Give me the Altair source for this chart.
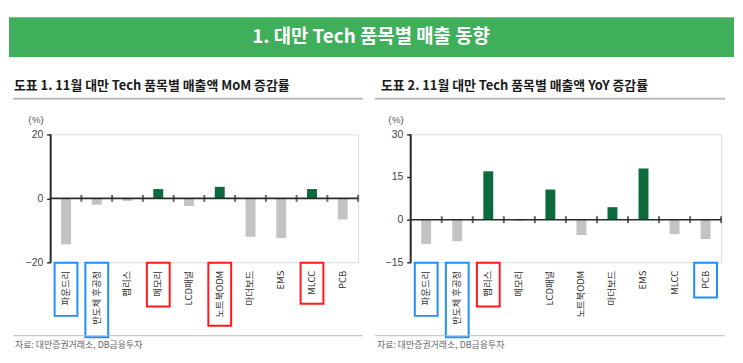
import altair as alt
import pandas as pd

categories = ["파운드리", "반도체 후공정", "팹리스", "메모리", "LCD패널", "노트북ODM", "마더보드", "EMS", "MLCC", "PCB"]
mom_values = [-14.4, -2.0, -0.8, 2.9, -2.4, 3.6, -12.0, -12.4, 2.9, -6.6]
yoy_values = [-8.6, -7.6, 17.0, -0.5, 10.6, -5.4, 4.4, 18.0, -5.1, -6.8]
mom_ticks = [-20, 0, 20]
yoy_ticks = [-15, 0, 15, 30]
mom_highlight = {"파운드리": "blue", "반도체 후공정": "blue", "메모리": "red", "노트북ODM": "red", "MLCC": "red"}
yoy_highlight = {"파운드리": "blue", "반도체 후공정": "blue", "팹리스": "red", "PCB": "blue"}

banner_text = "1. 대만 Tech 품목별 매출 동향"
title_mom = "도표 1. 11월 대만 Tech 품목별 매출액 MoM 증감률"
title_yoy = "도표 2. 11월 대만 Tech 품목별 매출액 YoY 증감률"
source_text = "자료:  대만증권거래소, DB금융투자"

FONT = "Noto Sans CJK KR"
GREEN = "#0B6B3C"
GRAY = "#C3C3C3"
AXIS = "#2b2b2b"
BOX = {"blue": "#1E8FFF", "red": "#FF1A1A"}
H = 129
LABEL_SIZE = 9.5
LABEL_PAD = 8


def text_px(s, size):
    w = 0.0
    for ch in s:
        if "\uac00" <= ch <= "\ud7a3":
            w += 1.0
        elif ch == " ":
            w += 0.28
        elif ch.isupper():
            w += 0.68
        else:
            w += 0.56
    return w * size


def one():
    return pd.DataFrame({"k": [0]})


def panel(values, ticks, highlight, title, width, deco, banner=False):
    df = pd.DataFrame({"cat": categories, "value": values})
    xaxis = alt.Axis(labelAngle=270, labelAlign="right", labelBaseline="middle", domain=False,
                     ticks=False, tickSize=0, labelPadding=LABEL_PAD, labelFontSize=LABEL_SIZE,
                     labelColor="#333333", labelFont=FONT, title=None)
    xscale = alt.Scale(type="band", paddingInner=0, paddingOuter=0)

    def X(**kw):
        return alt.X("cat:N", sort=categories, scale=xscale, axis=xaxis, **kw)

    yscale = alt.Scale(domain=[ticks[0], ticks[-1]], nice=False, zero=False)
    yaxis = alt.Axis(values=ticks, domain=False,
                     ticks=True, tickSize=4, labelPadding=4,
                     tickColor=AXIS, tickWidth=1.5,
                     labelColor="#444444", labelFontSize=10.5, labelFont="Liberation Sans",
                     grid=False, title="(%)", titleAngle=0, titleX=-23, titleY=-15,
                     titleAlign="left", titleBaseline="middle", titleFontWeight="normal",
                     titleFontSize=10, titleColor="#555555", titleFont="Liberation Sans")

    def Yd(v):
        return alt.Y(datum=v, scale=yscale, axis=yaxis, title="(%)")

    bars = alt.Chart(df).mark_bar(size=10).encode(
        x=X(),
        y=alt.Y("value:Q", scale=yscale, axis=yaxis, title="(%)"),
        color=alt.condition("datum.value > 0", alt.value(GREEN), alt.value(GRAY)),
    )
    zero = alt.Chart(one()).mark_rule(color=AXIS, strokeWidth=1.6).encode(y=Yd(0))
    yline = alt.Chart(one()).mark_rect(color=AXIS).encode(
        x=alt.value(-1), x2=alt.value(1), y=Yd(ticks[-1]), y2=alt.Y2(datum=ticks[0]))
    tks = alt.Chart(df).mark_tick(color=AXIS, orient="vertical", thickness=2, size=7).encode(
        x=X(bandPosition=1), y=Yd(0),
    )

    layers = []
    for cat, col in highlight.items():
        bottom = H + LABEL_PAD + text_px(cat, LABEL_SIZE) + 8
        box = alt.Chart(pd.DataFrame({"cat": [cat]})).mark_bar(
            size=23, fillOpacity=0, stroke=BOX[col], strokeWidth=2
        ).encode(x=X(), y=alt.value(H + 0.5), y2=alt.value(bottom))
        layers.append(box)

    if banner:
        layers.append(alt.Chart(one()).mark_rect(color="#40AF5C").encode(
            x=alt.value(-42), x2=alt.value(689), y=alt.value(-118), y2=alt.value(-78)))
        layers.append(alt.Chart(one()).mark_text(
            align="center", baseline="middle", font=FONT, fontSize=19, fontWeight="bold", color="white"
        ).encode(x=alt.value(323), y=alt.value(-98), text=alt.value(banner_text)))

    layers.append(alt.Chart(one()).mark_text(
        align="left", baseline="middle", font=FONT, fontSize=13, fontWeight="bold", color="#1a1a1a"
    ).encode(x=alt.value(deco["title_x"]), y=alt.value(-49), text=alt.value(title)))
    layers.append(alt.Chart(one()).mark_rule(color="#BDBDBD", strokeWidth=2).encode(
        x=alt.value(deco["line_x0"]), x2=alt.value(deco["line_x1"]), y=alt.value(-36)))
    layers.append(alt.Chart(one()).mark_rule(color="#BDBDBD", strokeWidth=1).encode(
        x=alt.value(deco["line_x0"]), x2=alt.value(deco["line_x1"]), y=alt.value(203)))
    layers.append(alt.Chart(one()).mark_text(
        align="left", baseline="middle", font=FONT, fontSize=9, color="#666666"
    ).encode(x=alt.value(deco["src_x"]), y=alt.value(212), text=alt.value(source_text)))

    layers += [bars, zero, tks, yline]
    return alt.layer(*layers).properties(width=width, height=H)


left = panel(mom_values, mom_ticks, mom_highlight, title_mom, 310,
             {"title_x": -37, "line_x0": -38, "line_x1": 315, "src_x": -36}, banner=True)
right = panel(yoy_values, yoy_ticks, yoy_highlight, title_yoy, 313,
              {"title_x": -30, "line_x0": -36, "line_x1": 317, "src_x": -34})

chart = alt.hconcat(left, right, spacing=53, bounds="flush").properties(
    padding={"left": 0, "top": 7, "right": 0, "bottom": 0}
).configure_view(stroke=None).configure(font=FONT)

chart.save("out.html", embed_options={"renderer": "svg", "actions": False})
